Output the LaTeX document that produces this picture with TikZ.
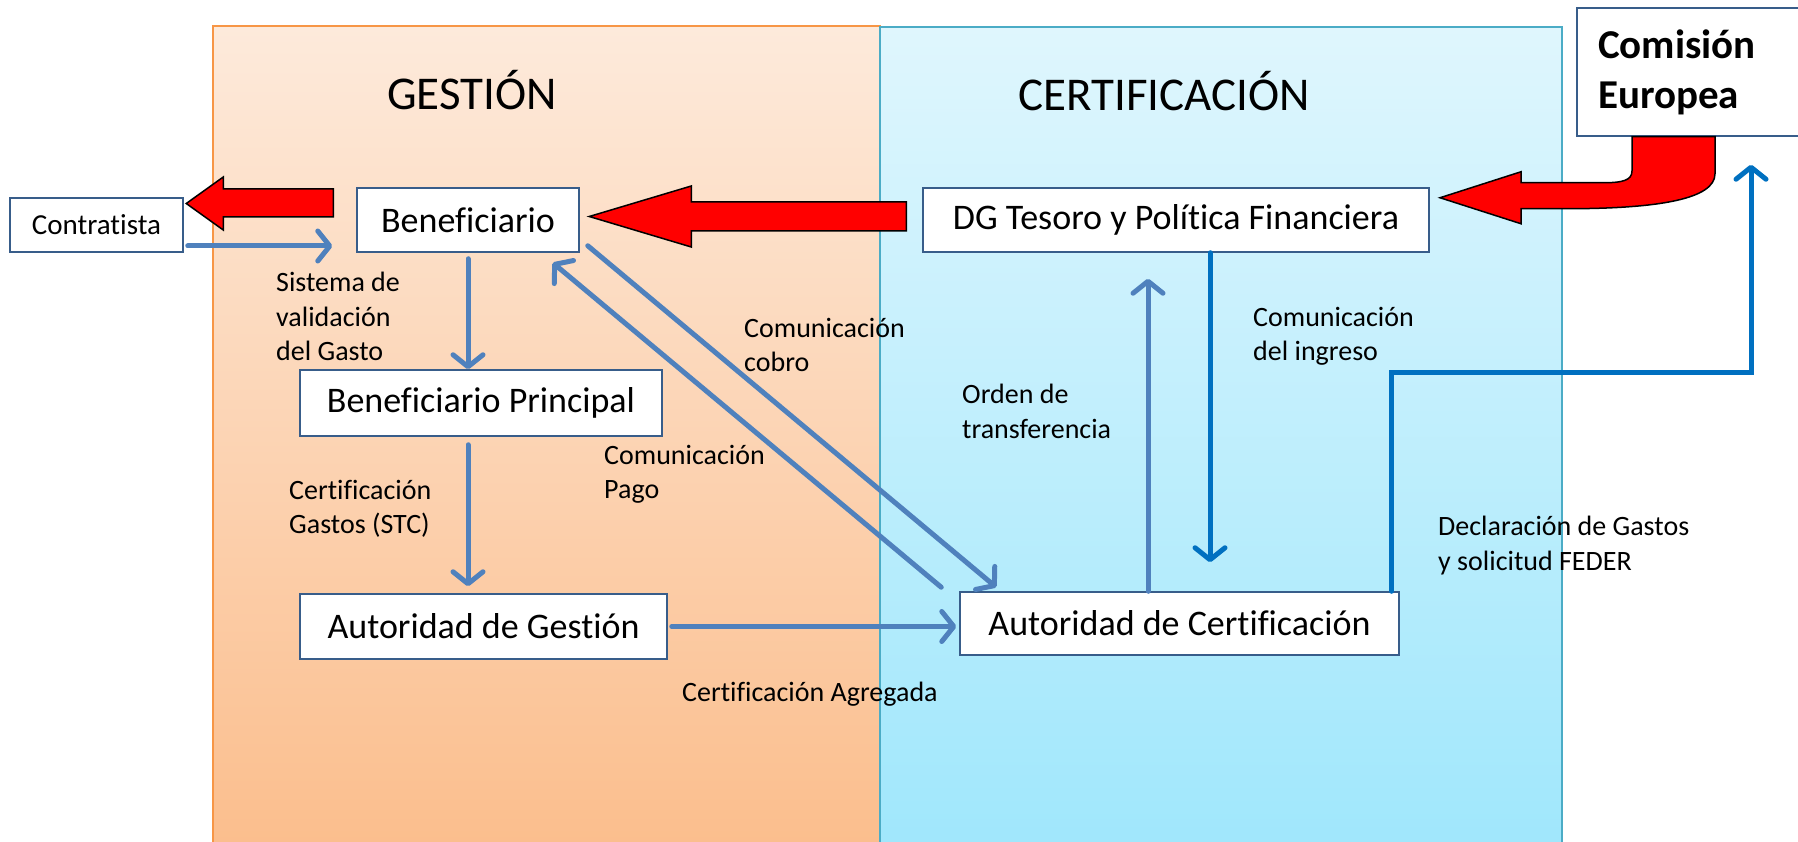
\documentclass[tikz,border=0pt]{standalone}
\usepackage{fontspec}
\setmainfont{Carlito}[Ligatures=NoCommon]
\usepackage{tikz}
\usetikzlibrary{arrows.meta, positioning, calc, shadings}
\definecolor{flowblue}{RGB}{79,129,189}
\definecolor{federblue}{RGB}{0,112,192}
\definecolor{boxline}{RGB}{56,93,138}
\definecolor{gestiontop}{RGB}{253,234,219}
\definecolor{gestionbottom}{RGB}{251,190,141}
\definecolor{gestionline}{RGB}{247,150,70}
\definecolor{certtop}{RGB}{223,246,253}
\definecolor{certbottom}{RGB}{160,231,252}
\definecolor{certline}{RGB}{75,172,198}
\newcommand{\boxfont}{\fontsize{36}{43}\selectfont}
\newcommand{\smallboxfont}{\fontsize{29}{35}\selectfont}
\newcommand{\lblfont}{\fontsize{28}{34.5}\selectfont}
\newcommand{\titlefont}{\fontsize{47}{56}\selectfont}
\newcommand{\cefont}{\fontsize{41}{50}\selectfont\bfseries}
\tikzset{
	entity/.style={draw=boxline, line width=1.5pt, fill=white, inner sep=0pt, font=\boxfont},
	arrowflow/.style={draw=flowblue, line width=5pt, line cap=round, -{Straight Barb[length=12pt,width=30pt,round]}},
	arrowfeder/.style={arrowflow, draw=federblue},
	lbl/.style={font=\lblfont, align=left, anchor=north west, inner sep=0pt},
	bigarrow/.style={fill=red, draw=black, line width=1.5pt}
}
\begin{document}
\begin{tikzpicture}[x=1pt, y=-1pt]
			\useasboundingbox (0,0) rectangle (1798,842);
			\pgfmathsetmacro{\boxh}{64}
			
			%% panels
			\draw[gestionline, line width=1.5pt, top color=gestiontop, bottom color=gestionbottom] (213,26) rectangle (880,846);
			\draw[certline, line width=1.5pt, top color=certtop, bottom color=certbottom] (880,27) rectangle (1562,846);
			
			\node[anchor=base west, font=\titlefont, inner sep=0pt] (gestion) at (387,110) {GESTIÓN};
			\node[anchor=base west, font=\titlefont, inner sep=0pt] (certificacion) at (1018,111) {CERTIFICACIÓN};
			
			%% boxes
			\node[entity, minimum width=173pt, minimum height=54pt, font=\smallboxfont] (contratista) at (96.5,225) {Contratista};
			\node[entity, minimum width=222pt, minimum height=\boxh pt] (beneficiario) at (468,220) {Beneficiario};
			\node[entity, minimum width=506pt, minimum height=\boxh pt] (dgtesoro) at (1176,220) {DG Tesoro y Política Financiera};
			\node[entity, minimum width=362pt, minimum height=66pt] (benprincipal) at (481,403) {Beneficiario Principal};
			\node[entity, minimum width=367pt, minimum height=65pt] (autgestion) at (483.5,626.5) {Autoridad de Gestión};
			\node[entity, minimum width=439pt, minimum height=63pt] (autcert) at (1179.5,623.5) {Autoridad de Certificación};
			\node[entity, minimum width=240pt, minimum height=128pt, text width=198pt, align=left, font=\cefont] (comision) at (1697,72) {Comisión\\Europea};
			
			%% flows
			\draw[arrowflow] ([shift={(4,21)}]contratista.east) -- ([shift={(-24,26)}]beneficiario.west);
			\draw[arrowflow] ([shift={(0,6)}]beneficiario.south) -- (beneficiario.south |- benprincipal.north);
			\draw[arrowflow] ([shift={(0,8)}]beneficiario.south |- benprincipal.south) -- ([shift={(0,-7)}]beneficiario.south |- autgestion.north);
			\draw[arrowflow] ([xshift=4pt]autgestion.east) -- ([xshift=-3pt]autgestion.east -| autcert.west);
			\draw[arrowflow] ([shift={(8,-7)}]beneficiario.south east) -- ([shift={(37,-4)}]autcert.north west);
			\draw[arrowflow] ([shift={(-18,-4)}]autcert.north west) -- ([shift={(-27,10)}]beneficiario.south east);
			\draw[arrowflow] ([xshift=-31.5pt]autcert.north) -- ([xshift=-31.5pt, yshift=-26pt]autcert.north |- dgtesoro.south);
			\draw[arrowfeder] ([xshift=34pt]dgtesoro.south) -- ([xshift=34pt, yshift=29pt]dgtesoro.south |- autcert.north);
			\draw[arrowfeder] ([xshift=-8pt]autcert.north east) -- ++(0,-219) -| ([xshift=54pt, yshift=-28pt]comision.south);
			
			%% payments
			\draw[bigarrow] ([shift={(-23,-31)}]beneficiario.west) -- ++(-110,0) -- ++(0,-12) -- ++(-37,26.5) -- ++(37,26.5) -- ++(0,-13) -- ++(110,0) -- cycle;
			\draw[bigarrow] ([shift={(-16,-18)}]dgtesoro.west) -- ++(-215,0) -- ++(0,-16) -- ++(-102,30.5) -- ++(102,30.5) -- ++(0,-16) -- ++(215,0) -- cycle;
			\draw[bigarrow] ([shift={(-65,0)}]comision.south) -- ++(0,34) .. controls +(0,10) and +(20,0) .. ++(-30,12) -- ++(-81,0) -- ++(0,-11) -- ++(-81,26) -- ++(81,26) -- ++(0,-15) -- ++(44,0) .. controls +(95,0) and +(0,25) .. ++(150,-35) -- ++(0,-37) -- cycle;
			
			%% labels
			\node[lbl] (sistema) at (276,272) {Sistema de\\validación\\del Gasto};
			\node[lbl] (certgastos) at (289,480) {Certificación\\Gastos (STC)};
			\node[lbl] (compago) at (604,445) {Comunicación\\Pago};
			\node[lbl] (comcobro) at (744,318) {Comunicación\\cobro};
			\node[lbl] (orden) at (962,384) {Orden de\\transferencia};
			\node[lbl] (ingreso) at (1253,307) {Comunicación\\del ingreso};
			\node[lbl] (declaracion) at (1438,516) {Declaración de Gastos\\y solicitud FEDER};
			\node[lbl] (agregada) at (682,682) {Certificación Agregada};
\end{tikzpicture}
\end{document}
